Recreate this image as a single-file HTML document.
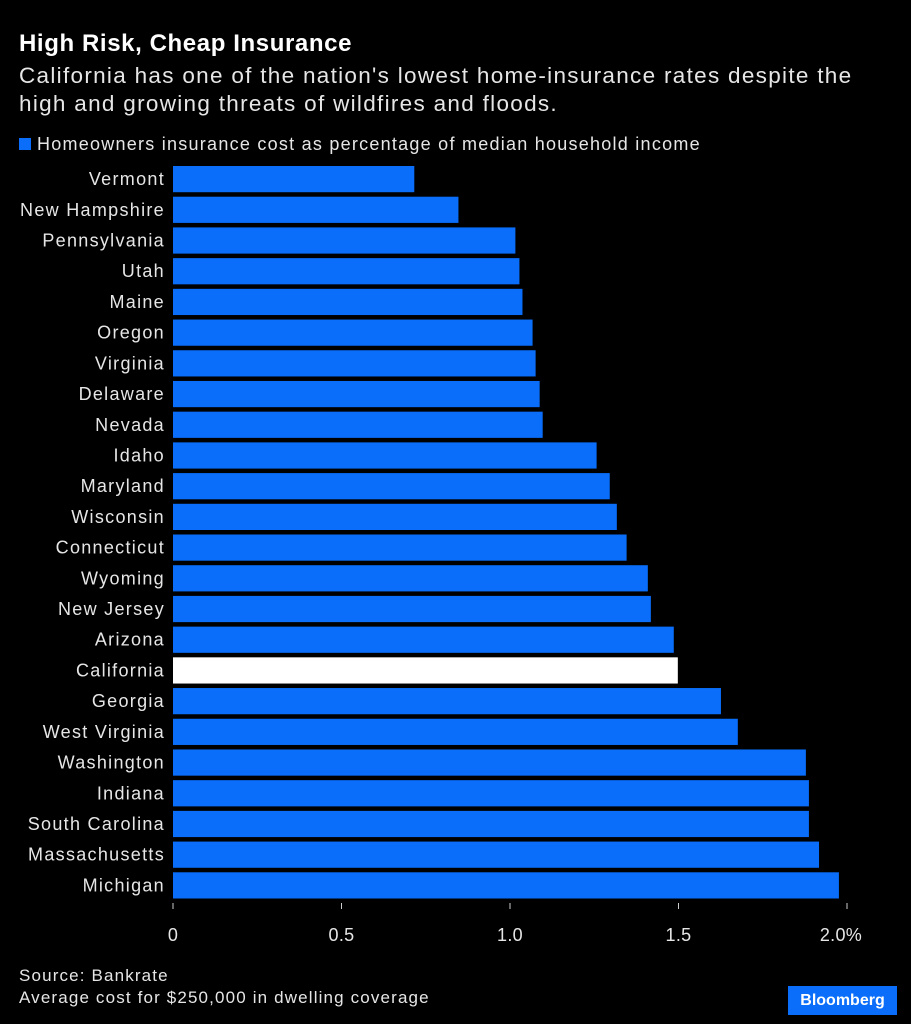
<!DOCTYPE html>
<html><head><meta charset="utf-8"><style>
body{margin:0;background:#000;width:911px;height:1024px;overflow:hidden;font-family:"Liberation Sans",Arial,sans-serif;color:#fff}
#title{position:absolute;left:19px;top:30px;font-size:24px;font-weight:bold;letter-spacing:0.6px}
#sub{position:absolute;left:19px;top:62px;font-size:22.5px;line-height:28px;color:#e6e6e6;width:890px;letter-spacing:1.3px;white-space:nowrap}
#legend{position:absolute;left:19px;top:134px;font-size:18px;color:#e6e6e6;letter-spacing:1.25px}
#legend span.sw{display:inline-block;width:12px;height:12px;background:#0a6efa;margin-right:6px;vertical-align:0px}
#src{position:absolute;left:19px;top:965px;font-size:17px;color:#e6e6e6;line-height:22px;letter-spacing:1.15px}
#logo{position:absolute;left:788px;top:986px;width:109px;height:29px;background:#0a6efa;color:#fff;font-weight:bold;font-size:16px;line-height:29px;text-align:center}
svg{position:absolute;left:0;top:0}
</style></head><body>
<div id="title">High Risk, Cheap Insurance</div>
<div id="sub">California has one of the nation's lowest home-insurance rates despite the<br>high and growing threats of wildfires and floods.</div>
<div id="legend"><span class="sw"></span>Homeowners insurance cost as percentage of median household income</div>
<svg id="chart" width="911" height="1024"></svg>
<div id="src">Source: Bankrate<br>Average cost for $250,000 in dwelling coverage</div>
<div id="logo">Bloomberg</div>
<script>
const states=["Vermont","New Hampshire","Pennsylvania","Utah","Maine","Oregon","Virginia","Delaware","Nevada","Idaho","Maryland","Wisconsin","Connecticut","Wyoming","New Jersey","Arizona","California","Georgia","West Virginia","Washington","Indiana","South Carolina","Massachusetts","Michigan"];
const values=[0.716,0.847,1.016,1.028,1.037,1.067,1.076,1.088,1.097,1.257,1.296,1.317,1.346,1.409,1.418,1.486,1.498,1.626,1.676,1.878,1.887,1.887,1.917,1.976];
const ticks=[0,0.5,1.0,1.5,2.0];
const tickLabels=["0","0.5","1.0","1.5","2.0%"];
const NS="http://www.w3.org/2000/svg";
const svg=document.getElementById('chart');
const x0=173,x1=847,top0=166,bottom0=903;
const xs=v=>x0+(v/2)*(x1-x0);
const pitch=(bottom0-top0)/states.length;
function mk(t,a){const e=document.createElementNS(NS,t);for(const k in a)e.setAttribute(k,a[k]);svg.appendChild(e);return e;}
states.forEach((s,i)=>{
  const y=top0+i*pitch;
  const r=mk('rect',{x:x0,y:y,width:xs(values[i])-x0,height:pitch-4.5,fill:s==="California"?"#ffffff":"#0a6efa"});
  
  
  const t=mk('text',{x:165,y:y+(pitch-4.5)/2+6,'text-anchor':'end','font-size':18,'letter-spacing':1.3,fill:'#e6e6e6'});
  t.textContent=s;
  
  
});
ticks.forEach((v,i)=>{
  const tk=mk('line',{x1:xs(v),x2:xs(v),y1:bottom0,y2:bottom0+6,stroke:'#ccc','stroke-width':1});
  
  
  const t=mk('text',{x:xs(v),y:941,'text-anchor':'middle','font-size':18,'letter-spacing':0.3,fill:'#e6e6e6'});
  t.textContent=tickLabels[i];
  if(i===ticks.length-1)t.setAttribute('x',xs(v)-6);
  
  
});
</script>
</body></html>
